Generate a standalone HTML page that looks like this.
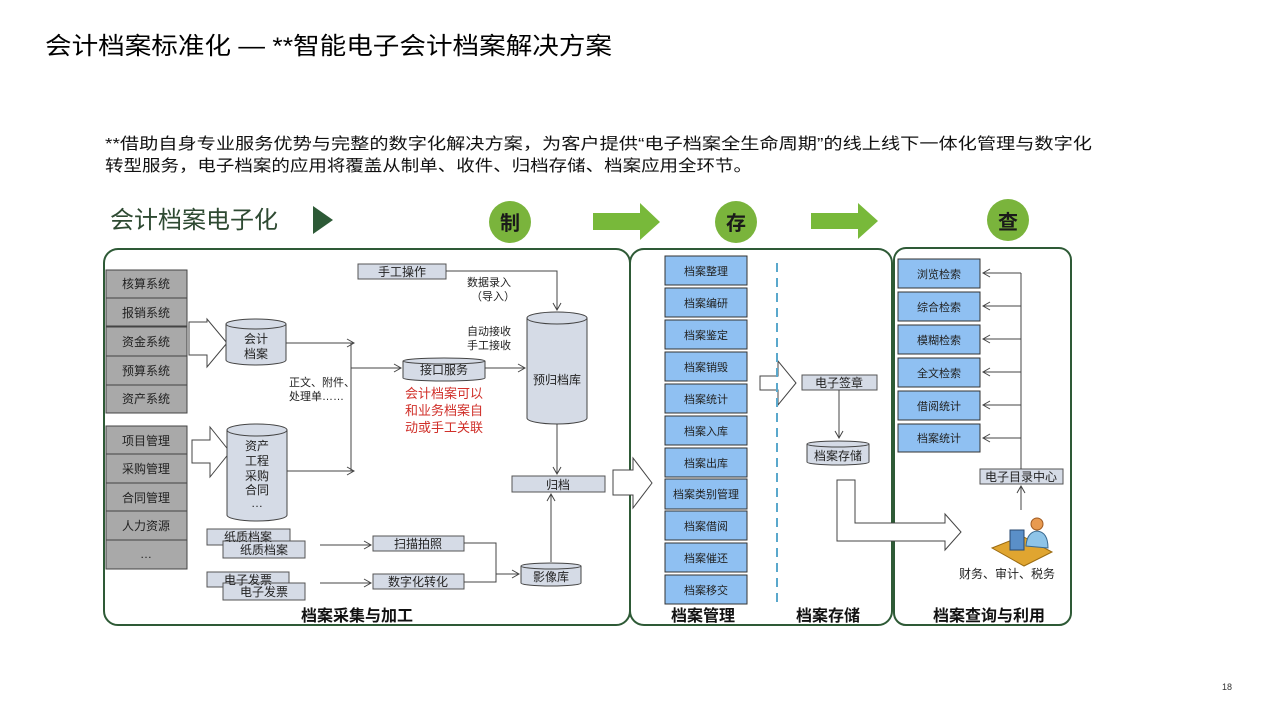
<!DOCTYPE html>
<html><head><meta charset="utf-8">
<style>
body{margin:0;background:#fff;}
svg{display:block;font-family:"Liberation Sans","Noto Sans CJK SC",sans-serif;}
</style></head><body>
<svg width="1280" height="720" viewBox="0 0 1280 720" xmlns="http://www.w3.org/2000/svg">
<defs>
<marker id="ar" markerWidth="10" markerHeight="10" refX="8" refY="5" orient="auto" markerUnits="userSpaceOnUse"><path d="M1,1 L8,5 L1,9" fill="none" stroke="#444" stroke-width="1"/></marker>
</defs>
<text x="45" y="54" font-size="24" fill="#000" textLength="567" lengthAdjust="spacingAndGlyphs">会计档案标准化 — **智能电子会计档案解决方案</text>
<text x="105" y="149" font-size="16" fill="#111" textLength="987" lengthAdjust="spacingAndGlyphs">**借助自身专业服务优势与完整的数字化解决方案，为客户提供“电子档案全生命周期”的线上线下一体化管理与数字化</text>
<text x="105" y="171" font-size="16" fill="#111" textLength="647" lengthAdjust="spacingAndGlyphs">转型服务，电子档案的应用将覆盖从制单、收件、归档存储、档案应用全环节。</text>

<text x="110" y="228" font-size="24" fill="#2e4a32">会计档案电子化</text>
<path d="M313,206 L333,220 L313,234 Z" fill="#2d5a36"/>
<circle cx="510" cy="222" r="21" fill="#7ab43c"/><text x="510" y="230" font-size="20" text-anchor="middle" font-weight="bold" fill="#1a1a1a">制</text>
<circle cx="736" cy="222" r="21" fill="#7ab43c"/><text x="736" y="230" font-size="20" text-anchor="middle" font-weight="bold" fill="#1a1a1a">存</text>
<circle cx="1008" cy="220" r="21" fill="#7ab43c"/><text x="1008" y="229" font-size="20" text-anchor="middle" font-weight="bold" fill="#1a1a1a">查</text>
<path d="M593,213 L640,213 L640,203 L660,222 L640,240 L640,230 L593,230 Z" fill="#78b93a"/>
<path d="M811,213 L858,213 L858,203 L878,221 L858,239 L858,229 L811,229 Z" fill="#78b93a"/>

<g fill="none" stroke="#2e5a36" stroke-width="2">
<rect x="104" y="249" width="526" height="376" rx="14"/>
<rect x="630" y="249" width="262" height="376" rx="14"/>
<rect x="894" y="248" width="177" height="377" rx="12"/>
</g>

<g stroke="#444" stroke-width="1" fill="#a9a9a9">
<rect x="106" y="270" width="81" height="28"/><rect x="106" y="298" width="81" height="28"/><rect x="106" y="327" width="81" height="29"/><rect x="106" y="356" width="81" height="29"/><rect x="106" y="385" width="81" height="28"/>
<rect x="106" y="426" width="81" height="28"/><rect x="106" y="454" width="81" height="29"/><rect x="106" y="483" width="81" height="28"/><rect x="106" y="511" width="81" height="29"/><rect x="106" y="540" width="81" height="29"/>
</g>
<g font-size="12" fill="#222" text-anchor="middle">
<text x="146" y="288">核算系统</text><text x="146" y="317">报销系统</text><text x="146" y="346">资金系统</text><text x="146" y="375">预算系统</text><text x="146" y="403">资产系统</text>
<text x="146" y="445">项目管理</text><text x="146" y="473">采购管理</text><text x="146" y="502">合同管理</text><text x="146" y="530">人力资源</text><text x="146" y="558">…</text>
</g>

<g fill="#fff" stroke="#444" stroke-width="1">
<path d="M189,322 L207,322 L207,319 L227,343 L207,367 L207,355 L189,355 Z"/>
<path d="M192,440 L210,440 L210,427 L230,452 L210,477 L210,463 L192,463 Z"/>
<path d="M613,470 L633,470 L633,458 L652,483 L633,508 L633,495 L613,495 Z"/>
<path d="M760,376 L778,376 L778,361 L796,383 L778,405 L778,390 L760,390 Z"/>
<path d="M837,480 L855,480 L855,523 L945,523 L945,514 L961,532 L945,550 L945,541 L837,541 Z"/>
</g>

<g fill="#d5dbe6" stroke="#444" stroke-width="1">
<path d="M226,324 L226,360 A30,5 0 0 0 286,360 L286,324"/><ellipse cx="256" cy="324" rx="30" ry="5"/>
<path d="M227,430 L227,515 A30,6 0 0 0 287,515 L287,430"/><ellipse cx="257" cy="430" rx="30" ry="6"/>
<path d="M403,361 L403,378 A41,3 0 0 0 485,378 L485,361"/><ellipse cx="444" cy="361" rx="41" ry="3"/>
<path d="M527,318 L527,418 A30,6 0 0 0 587,418 L587,318"/><ellipse cx="557" cy="318" rx="30" ry="6"/>
<path d="M521,566 L521,583 A30,3 0 0 0 581,583 L581,566"/><ellipse cx="551" cy="566" rx="30" ry="3"/>
<path d="M807,444 L807,462 A31,3 0 0 0 869,462 L869,444"/><ellipse cx="838" cy="444" rx="31" ry="3"/>
</g>
<g font-size="12" fill="#222" text-anchor="middle">
<text x="256" y="343">会计</text><text x="256" y="358">档案</text>
<text x="257" y="450">资产</text><text x="257" y="465">工程</text><text x="257" y="480">采购</text><text x="257" y="494">合同</text><text x="257" y="507">…</text>
<text x="444" y="374">接口服务</text>
<text x="557" y="384">预归档库</text>
<text x="551" y="581">影像库</text>
<text x="838" y="460">档案存储</text>
</g>

<g fill="#d5dbe6" stroke="#555" stroke-width="1">
<rect x="358" y="264" width="88" height="15"/>
<rect x="512" y="476" width="93" height="16"/>
<rect x="373" y="536" width="91" height="15"/>
<rect x="373" y="574" width="91" height="15"/>
<rect x="207" y="529" width="83" height="16"/><rect x="223" y="541" width="82" height="17"/>
<rect x="207" y="572" width="82" height="15"/><rect x="223" y="583" width="82" height="17"/>
<rect x="802" y="375" width="75" height="15"/>
<rect x="980" y="469" width="83" height="15"/>
</g>
<g font-size="12" fill="#222" text-anchor="middle">
<text x="402" y="276">手工操作</text>
<text x="558" y="489">归档</text>
<text x="418" y="548">扫描拍照</text>
<text x="418" y="586">数字化转化</text>
<text x="248" y="541">纸质档案</text><text x="264" y="554">纸质档案</text>
<text x="248" y="584">电子发票</text><text x="264" y="596">电子发票</text>
<text x="839" y="387">电子签章</text>
<text x="1021" y="481">电子目录中心</text>
</g>

<g fill="none" stroke="#444" stroke-width="1">
<path d="M446,271 L557,271 L557,310" marker-end="url(#ar)"/>
<path d="M286,343 L354,343" marker-end="url(#ar)"/>
<path d="M287,471 L354,471" marker-end="url(#ar)"/>
<path d="M351,343 L351,471"/>
<path d="M351,368 L401,368" marker-end="url(#ar)"/>
<path d="M485,368 L525,368" marker-end="url(#ar)"/>
<path d="M557,424 L557,474" marker-end="url(#ar)"/>
<path d="M551,562 L551,494" marker-end="url(#ar)"/>
<path d="M320,545 L371,545" marker-end="url(#ar)"/>
<path d="M320,583 L371,583" marker-end="url(#ar)"/>
<path d="M464,543 L496,543 L496,582 M464,582 L496,582 L496,574 L519,574" marker-end="url(#ar)"/>
<path d="M839,390 L839,438" marker-end="url(#ar)"/>
<path d="M1021,510 L1021,486" marker-end="url(#ar)"/>
<path d="M1021,469 L1021,273"/>
<path d="M1021,273 L983,273" marker-end="url(#ar)"/>
<path d="M1021,306 L983,306" marker-end="url(#ar)"/>
<path d="M1021,339 L983,339" marker-end="url(#ar)"/>
<path d="M1021,372 L983,372" marker-end="url(#ar)"/>
<path d="M1021,405 L983,405" marker-end="url(#ar)"/>
<path d="M1021,438 L983,438" marker-end="url(#ar)"/>
</g>
<g font-size="11" fill="#222">
<text x="467" y="286">数据录入</text><text x="471" y="300">（导入）</text>
<text x="467" y="335">自动接收</text><text x="467" y="349">手工接收</text>
<text x="289" y="386">正文、附件、</text><text x="289" y="400">处理单……</text>
</g>
<g font-size="13" fill="#d0302a">
<text x="405" y="398">会计档案可以</text><text x="405" y="415">和业务档案自</text><text x="405" y="432">动或手工关联</text>
</g>

<g fill="#8fc0f2" stroke="#333" stroke-width="1">
<rect x="665" y="256" width="82" height="29"/><rect x="665" y="288" width="82" height="29"/><rect x="665" y="320" width="82" height="29"/><rect x="665" y="352" width="82" height="29"/><rect x="665" y="384" width="82" height="29"/><rect x="665" y="416" width="82" height="29"/><rect x="665" y="448" width="82" height="29"/><rect x="665" y="479" width="82" height="30"/><rect x="665" y="511" width="82" height="29"/><rect x="665" y="543" width="82" height="29"/><rect x="665" y="575" width="82" height="29"/>
</g>
<g font-size="11" fill="#222" text-anchor="middle">
<text x="706" y="275">档案整理</text><text x="706" y="307">档案编研</text><text x="706" y="339">档案鉴定</text><text x="706" y="371">档案销毁</text><text x="706" y="403">档案统计</text><text x="706" y="435">档案入库</text><text x="706" y="467">档案出库</text><text x="706" y="498">档案类别管理</text><text x="706" y="530">档案借阅</text><text x="706" y="562">档案催还</text><text x="706" y="594">档案移交</text>
</g>
<path d="M777,263 L777,608" stroke="#5aa8cc" stroke-width="2" stroke-dasharray="9,6"/>

<g fill="#8fc0f2" stroke="#333" stroke-width="1">
<rect x="898" y="259" width="82" height="29"/><rect x="898" y="292" width="82" height="29"/><rect x="898" y="325" width="82" height="29"/><rect x="898" y="358" width="82" height="29"/><rect x="898" y="391" width="82" height="29"/><rect x="898" y="424" width="82" height="28"/>
</g>
<g font-size="11" fill="#222" text-anchor="middle">
<text x="939" y="278">浏览检索</text><text x="939" y="311">综合检索</text><text x="939" y="344">模糊检索</text><text x="939" y="377">全文检索</text><text x="939" y="410">借阅统计</text><text x="939" y="442">档案统计</text>
</g>

<g>
<path d="M992,548 L1022,536 L1052,552 L1024,566 Z" fill="#e0a530" stroke="#9a6a10"/>
<rect x="1010" y="530" width="14" height="20" fill="#5a8fc8" stroke="#2a4a70"/>
<circle cx="1037" cy="524" r="6" fill="#e89a50" stroke="#a05a20"/>
<path d="M1026,546 Q1027,532 1037,531 Q1048,532 1048,548 Z" fill="#8ec4e8" stroke="#3a6a90"/>
</g>
<text x="959" y="578" font-size="12" fill="#222">财务、审计、税务</text>

<g font-size="16" font-weight="bold" fill="#111" text-anchor="middle">
<text x="357" y="621">档案采集与加工</text>
<text x="703" y="621">档案管理</text>
<text x="828" y="621">档案存储</text>
<text x="989" y="621">档案查询与利用</text>
</g>
<text x="1222" y="690" font-size="9" fill="#333">18</text>
</svg>
</body></html>
